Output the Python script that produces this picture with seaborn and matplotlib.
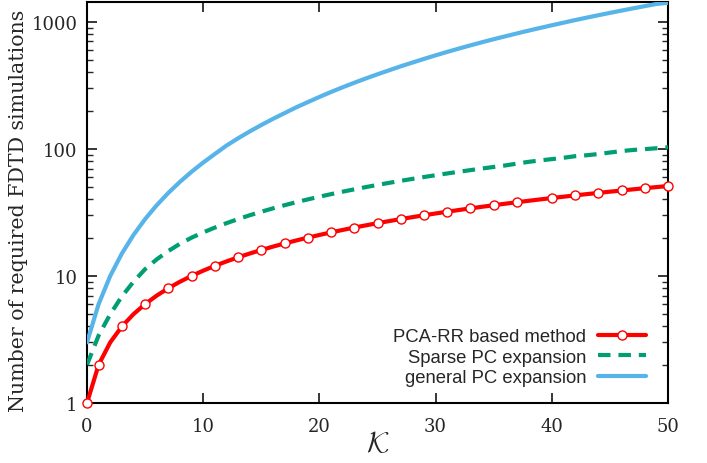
import numpy as np
import pandas as pd
import matplotlib
matplotlib.use("Agg")
import matplotlib.pyplot as plt
from matplotlib.ticker import LogLocator, NullFormatter, FixedLocator
import seaborn as sns

# data
K = list(range(51))
pca_rr = [1, 2, 3, 4, 5, 6, 7, 8, 9, 10, 11, 12, 13, 14, 15, 16, 17, 18, 19, 20,
          21, 22, 23, 24, 25, 26, 27, 28, 29, 30, 31, 32, 33, 34, 35, 36, 37, 38, 39, 40,
          41, 42, 43, 44, 45, 46, 47, 48, 49, 50, 51]
sparse_pc = [2, 3.4, 5, 6.9, 9, 11.3, 13.5, 15.7, 17.9, 20, 22, 24, 26, 28, 30, 32, 34, 36, 38, 40,
             42, 44, 46, 48, 50, 52, 54, 56, 58, 60, 62, 64, 66, 68, 70, 72, 74, 76.5, 79, 81,
             83, 85, 87.5, 89, 91, 93.5, 96, 98, 99.5, 101, 103]
general_pc = [3, 6, 10, 15, 21, 28, 36, 45, 55, 66, 78, 91, 106, 121, 137, 154, 172, 191, 212, 233,
              256, 280, 305, 331, 358, 386, 415, 446, 477, 510, 544, 579, 615, 652, 690, 729, 768,
              809, 851, 894, 938, 983, 1030, 1077, 1125, 1174, 1224, 1275, 1327, 1380, 1410]
marker_K = [0, 1, 3, 5, 7, 9, 11, 13, 15, 17, 19, 21, 23, 25, 27, 29, 31, 33, 35, 37,
            40, 42, 44, 46, 48, 50]
yticks = [1, 10, 100, 1000]
xticks = [0, 10, 20, 30, 40, 50]

sns.set_style("ticks")
plt.rcParams['font.family'] = ['DejaVu Serif']
plt.rcParams['mathtext.fontset'] = 'cm'

fig = plt.figure(figsize=(7.07, 4.64), dpi=100)
ax = fig.add_axes([87 / 707, 1 - 404 / 464, (668 - 87) / 707, (404 - 3) / 464])

sns.lineplot(x=K, y=pca_rr, ax=ax, color="#ff0000", linewidth=3,
             marker="o", markevery=marker_K, markersize=6.5,
             markerfacecolor="white", markeredgecolor="#ff0000", markeredgewidth=1,
             label="PCA-RR based method", clip_on=False, zorder=5)
sns.lineplot(x=K, y=sparse_pc, ax=ax, color="#009e73", linewidth=3,
             linestyle=(0, (3, 1.9)), label="Sparse PC expansion", zorder=4)
sns.lineplot(x=K, y=general_pc, ax=ax, color="#56b4e9", linewidth=3,
             label="general PC expansion", zorder=3)

ax.set_yscale("log")
ax.set_xlim(0, 50)
ax.set_ylim(1, 1430)
ax.xaxis.set_major_locator(FixedLocator(xticks))
ax.yaxis.set_major_locator(FixedLocator(yticks))
ax.set_yticklabels([str(v) for v in yticks])
ax.yaxis.set_minor_locator(LogLocator(base=10, subs=np.arange(2, 10)))
ax.yaxis.set_minor_formatter(NullFormatter())

ax.tick_params(which="major", direction="in", length=7, width=1.3,
               top=True, right=True, labelsize=13)
ax.tick_params(axis="x", pad=10)
ax.tick_params(axis="y", pad=7)
ax.tick_params(which="minor", direction="in", length=4, width=1.0,
               top=False, right=True, left=True)
for s in ax.spines.values():
    s.set_linewidth(1.5)
    s.set_color("black")

ax.set_xlabel(r"$\mathcal{K}$", fontsize=21, labelpad=-4)
ax.set_ylabel("Number of required FDTD simulations", fontsize=14.8)
ax.yaxis.set_label_coords(-0.1015, 0.481)

leg = ax.legend(loc="lower right", bbox_to_anchor=(0.99, 0.0), frameon=False,
                markerfirst=False, handlelength=2.6, handletextpad=0.6,
                labelspacing=0.2, prop={"family": "Liberation Sans", "size": 13.3})

fig.savefig("out.png", dpi=100)
